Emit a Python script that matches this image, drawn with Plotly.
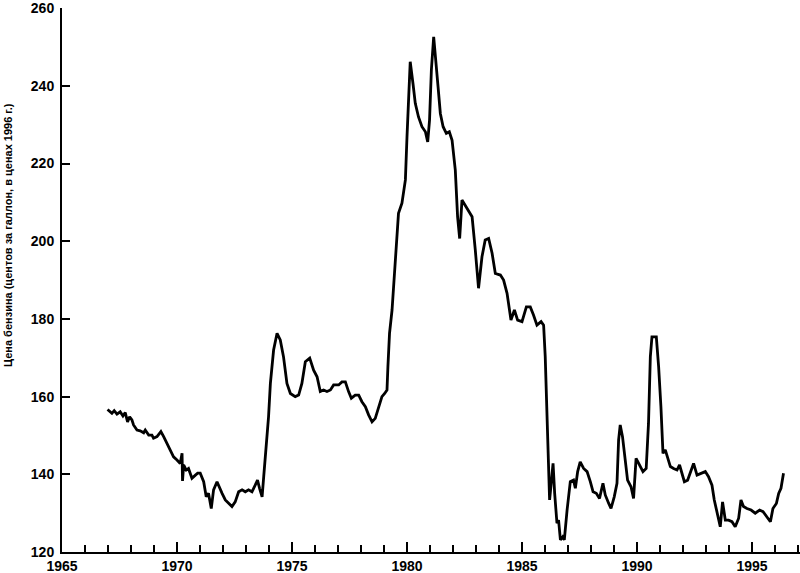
import plotly.graph_objects as go

# Decimal years and gasoline price (cents per gallon, 1996 prices)
years = [
    1966.98, 1967.17, 1967.27, 1967.39, 1967.53, 1967.65, 1967.75, 1967.85, 1967.94, 1968.04,
    1968.11, 1968.26, 1968.40, 1968.55, 1968.62, 1968.77, 1968.91, 1968.98, 1969.13, 1969.30,
    1969.42, 1969.57, 1969.71, 1969.85, 1970.00, 1970.14, 1970.22, 1970.24, 1970.29, 1970.40,
    1970.50, 1970.65, 1970.80, 1970.90, 1971.01, 1971.16, 1971.27, 1971.37, 1971.49, 1971.59,
    1971.74, 1971.85, 1971.96, 1972.10, 1972.24, 1972.39, 1972.53, 1972.68, 1972.83, 1972.97,
    1973.11, 1973.26, 1973.40, 1973.50, 1973.59, 1973.70, 1973.77, 1973.84, 1973.91, 1973.98,
    1974.06, 1974.20, 1974.35, 1974.49, 1974.63, 1974.78, 1974.93, 1975.14, 1975.29, 1975.43,
    1975.58, 1975.77, 1975.94, 1976.09, 1976.23, 1976.37, 1976.52, 1976.67, 1976.81, 1977.03,
    1977.17, 1977.32, 1977.46, 1977.58, 1977.75, 1977.90, 1978.04, 1978.19, 1978.33, 1978.48,
    1978.62, 1978.77, 1978.91, 1979.03, 1979.13, 1979.17, 1979.24, 1979.35, 1979.42, 1979.57,
    1979.63, 1979.78, 1979.85, 1979.93, 1980.00, 1980.07, 1980.14, 1980.26, 1980.36, 1980.50,
    1980.65, 1980.80, 1980.90, 1980.98, 1981.06, 1981.16, 1981.26, 1981.35, 1981.45, 1981.57,
    1981.71, 1981.84, 1981.96, 1982.03, 1982.10, 1982.20, 1982.29, 1982.39, 1982.61, 1982.83,
    1982.97, 1983.11, 1983.26, 1983.40, 1983.55, 1983.70, 1983.84, 1984.06, 1984.20, 1984.35,
    1984.52, 1984.67, 1984.81, 1985.00, 1985.19, 1985.36, 1985.50, 1985.65, 1985.83, 1985.94,
    1986.01, 1986.09, 1986.16, 1986.20, 1986.27, 1986.35, 1986.42, 1986.52, 1986.59, 1986.67,
    1986.77, 1986.84, 1986.96, 1987.10, 1987.24, 1987.32, 1987.42, 1987.53, 1987.68, 1987.83,
    1987.97, 1988.09, 1988.23, 1988.37, 1988.52, 1988.62, 1988.77, 1988.87, 1989.01, 1989.13,
    1989.20, 1989.27, 1989.37, 1989.49, 1989.59, 1989.74, 1989.85, 1989.96, 1990.07, 1990.26,
    1990.40, 1990.50, 1990.58, 1990.65, 1990.84, 1990.94, 1991.04, 1991.13, 1991.23, 1991.33,
    1991.45, 1991.59, 1991.74, 1991.85, 1991.96, 1992.06, 1992.20, 1992.35, 1992.46, 1992.61,
    1992.78, 1992.97, 1993.11, 1993.26, 1993.36, 1993.50, 1993.62, 1993.72, 1993.84, 1993.98,
    1994.13, 1994.27, 1994.42, 1994.52, 1994.63, 1994.78, 1994.96, 1995.14, 1995.33, 1995.48,
    1995.65, 1995.80, 1995.91, 1996.06, 1996.16, 1996.26, 1996.37,
]
price = [
    156.7, 155.7, 156.4, 155.5, 156.1, 155.0, 155.9, 153.5, 154.8, 154.0,
    152.7, 151.4, 151.2, 150.7, 151.4, 150.1, 150.1, 149.3, 149.7, 151.0,
    149.7, 148.0, 146.3, 144.5, 143.7, 142.8, 145.4, 138.3, 142.4, 141.1,
    141.5, 139.0, 139.8, 140.3, 140.3, 138.1, 134.2, 135.1, 131.2, 136.0,
    138.1, 136.8, 135.1, 133.4, 132.5, 131.7, 132.9, 135.5, 136.0, 135.5,
    136.0, 135.5, 137.2, 138.5, 136.4, 134.2, 139.4, 144.5, 148.8, 154.8,
    163.4, 172.0, 176.3, 174.6, 170.3, 163.4, 160.8, 160.0, 160.4, 163.4,
    169.0, 169.9, 166.8, 165.1, 161.3, 161.7, 161.3, 161.7, 163.0, 163.0,
    163.8, 163.8, 161.3, 159.6, 160.4, 160.4, 158.7, 157.4, 155.3, 153.5,
    154.4, 157.0, 160.0, 160.8, 161.7, 167.7, 176.3, 182.3, 188.3, 201.2,
    207.2, 209.8, 212.3, 215.8, 226.9, 238.1, 246.2, 240.6, 235.5, 232.0,
    229.5, 228.2, 225.6, 231.2, 244.1, 252.6, 246.6, 239.8, 232.9, 229.5,
    227.8, 228.2, 226.0, 222.6, 218.3, 206.3, 200.7, 210.6, 208.5, 206.3,
    197.7, 187.9, 196.0, 200.3, 200.7, 196.9, 191.7, 191.3, 190.0, 186.6,
    179.7, 182.3, 179.7, 179.3, 183.1, 183.1, 181.0, 178.4, 179.3, 178.4,
    170.3, 153.1, 139.4, 133.4, 137.7, 142.8, 135.1, 127.4, 128.2, 123.1,
    123.9, 123.1, 130.8, 138.1, 138.5, 136.4, 140.7, 143.2, 141.5, 140.7,
    138.1, 135.5, 135.1, 133.8, 137.7, 134.7, 132.5, 131.2, 134.2, 137.7,
    148.8, 152.7, 149.7, 143.7, 138.5, 136.8, 133.8, 144.1, 142.8, 140.7,
    141.5, 153.1, 170.3, 175.4, 175.4, 167.7, 157.4, 145.4, 146.3, 144.5,
    142.0, 141.5, 141.1, 142.4, 140.3, 138.1, 138.5, 141.1, 142.8, 139.8,
    140.3, 140.7, 139.4, 137.2, 133.4, 130.0, 126.5, 132.9, 128.2, 128.2,
    127.8, 126.5, 128.7, 133.4, 131.7, 131.2, 130.8, 130.0, 130.8, 130.4,
    129.1, 127.8, 131.2, 132.5, 135.1, 136.4, 140.3,
]

x_tickvals = [1965, 1970, 1975, 1980, 1985, 1990, 1995]
y_tickvals = [120, 140, 160, 180, 200, 220, 240, 260]
y_title = "Цена бензина (центов за галлон, в ценах 1996 г.)"

FONT = "Liberation Sans, Arial, sans-serif"

fig = go.Figure()
fig.add_trace(go.Scatter(
    x=years, y=price, mode="lines",
    line=dict(color="black", width=2.8),
    hoverinfo="skip", showlegend=False,
))

fig.update_layout(
    width=800, height=573,
    margin=dict(l=62, r=0, t=8, b=21),
    paper_bgcolor="white", plot_bgcolor="white",
    font=dict(family=FONT, color="black"),
    xaxis=dict(
        range=[1965, 1965 + 738 / 23], tickvals=x_tickvals,
        ticks="inside", ticklen=10, tickwidth=1.5, tickcolor="black",
        minor=dict(dtick=1, tick0=1965, ticks="inside", ticklen=7, tickwidth=1.5, tickcolor="black"),
        showline=True, linecolor="black", linewidth=2,
        showgrid=False, zeroline=False, automargin=False,
        tickfont=dict(family=FONT, size=14, color="black", weight="bold"),
        ticklabelstandoff=0,
    ),
    yaxis=dict(
        range=[120, 260.05], tickvals=y_tickvals,
        ticks="inside", ticklen=8, tickwidth=1.5, tickcolor="black",
        showline=True, linecolor="black", linewidth=2,
        showgrid=False, zeroline=False, automargin=False,
        tickfont=dict(family=FONT, size=14, color="black", weight="bold"),
        ticklabelstandoff=3, ticklabeloverflow="allow",
    ),
    annotations=[dict(
        text=y_title, xref="paper", yref="paper",
        x=(8 - 62) / 738, y=(552 - 235) / 544,
        xanchor="center", yanchor="middle", textangle=-90, showarrow=False,
        font=dict(family=FONT, size=11, color="black", weight="bold"),
    )],
)

fig.write_html(
    "out.html",
    config={"displayModeBar": False},
    post_script="document.body.style.margin='0px';document.body.style.overflow='hidden';",
)
